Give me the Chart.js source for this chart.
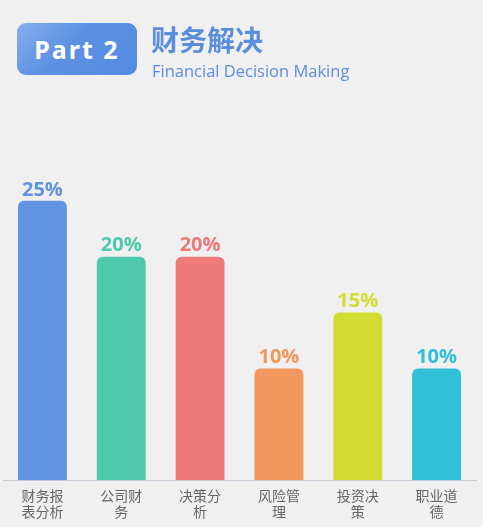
<!DOCTYPE html>
<html>
<head>
<meta charset="utf-8">
<script src="https://cdn.jsdelivr.net/npm/chart.js@4"></script>
<style>
    html, body { margin: 0; padding: 0; background: #f0f0f0; width: 483px; height: 527px; overflow: hidden; }
    #wrap { position: absolute; left: 0; top: 0; width: 483px; height: 527px; }
    .badge {
        position: absolute; left: 17px; top: 23px; width: 120px; height: 52px;
        border-radius: 9px;
        background: linear-gradient(135deg, #86aeec 0%, #5b90e2 45%, #548ae0 100%);
        color: #fff; font: bold 25px "Noto Sans", "DejaVu Sans", sans-serif;
        letter-spacing: 2px; text-align: center; line-height: 52px;
    }
    .title {
        position: absolute; left: 151px; top: 21px; color: #5b8ee0;
        font: bold 28px "Noto Sans CJK SC", sans-serif; line-height: 36px;
    }
    .sub {
        position: absolute; left: 152px; top: 60px; color: #5b8ee0;
        font: 16.5px "Open Sans", "Noto Sans", sans-serif; line-height: 21px;
    }
</style>
</head>
<body>
<div id="wrap"><canvas id="barChart"></canvas></div>
<div class="badge">Part 2</div>
<div class="title">财务解决</div>
<div class="sub">Financial Decision Making</div>
<script>
// Topics and their share
const topics = [
    ['财务报', '表分析'],
    ['公司财', '务'],
    ['决策分', '析'],
    ['风险管', '理'],
    ['投资决', '策'],
    ['职业道', '德']
];
const shares = [25, 20, 20, 10, 15, 10];
const barColors = ['#6293e0', '#50c8ac', '#ee7a7a', '#f2985e', '#d3dc30', '#32c0d9'];

// Draws the "25%" labels above each bar
const valueLabels = {
    id: 'valueLabels',
    afterDatasetsDraw(chart) {
        const ctx = chart.ctx;
        const meta = chart.getDatasetMeta(0);
        ctx.save();
        ctx.font = 'bold 20px "Open Sans", "Noto Sans", sans-serif';
        ctx.textAlign = 'center';
        ctx.textBaseline = 'bottom';
        meta.data.forEach(function (bar, i) {
            ctx.fillStyle = barColors[i];
            ctx.fillText(shares[i] + '%', bar.x, bar.y - 1);
        });
        ctx.restore();
    }
};

const ctx = document.getElementById('barChart').getContext('2d');
const barChart = new Chart(ctx, {
    type: 'bar',
    data: {
        labels: topics,
        datasets: [
            {
                data: shares,
                backgroundColor: barColors,
                borderRadius: { topLeft: 6, topRight: 6 },
                borderSkipped: 'bottom',
                categoryPercentage: 1,
                barPercentage: 0.62
            }
        ]
    },
    options: {
        responsive: true,
        maintainAspectRatio: false,
        animation: false,
        events: [],
        layout: {
            padding: { left: 3, right: 7, top: 145, bottom: 0 }
        },
        scales: {
            x: {
                grid: { display: false, drawTicks: false, tickLength: 0 },
                border: { color: '#c5cad6', width: 1 },
                ticks: {
                    color: '#666666',
                    padding: 8,
                    maxRotation: 0,
                    font: { family: '"Noto Sans CJK SC", sans-serif', size: 14, lineHeight: 1.1 }
                }
            },
            y: {
                display: false,
                min: 0,
                max: 30
            }
        },
        plugins: {
            legend: { display: false },
            tooltip: { enabled: false }
        }
    },
    plugins: [valueLabels]
});
</script>
</body>
</html>
